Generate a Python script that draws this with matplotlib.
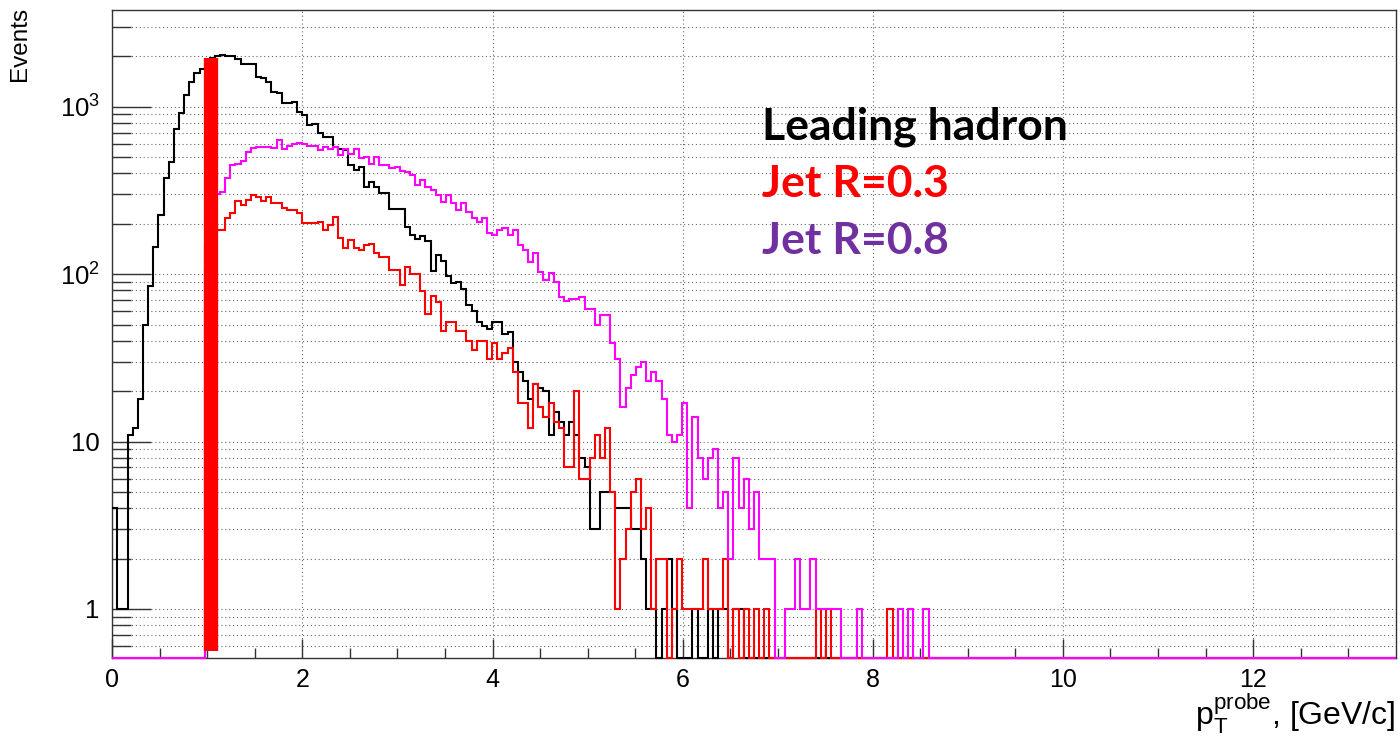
import matplotlib

matplotlib.use("Agg")
import matplotlib.pyplot as plt
import numpy as np
from matplotlib.ticker import FixedLocator, FixedFormatter, NullFormatter

plt.rcParams["font.family"] = ["Liberation Sans", "DejaVu Sans"]
plt.rcParams["mathtext.fontset"] = "custom"
plt.rcParams["mathtext.rm"] = "Liberation Sans"

# binning: 250 bins on [0, 13.5] GeV/c
N_BINS = 250
PT_MAX = 13.5

# leading hadron counts from bin 0
lead_counts = [
    4, 1, 1, 11, 12, 18, 50, 85, 145, 226,
    374, 470, 734, 915, 1176, 1413, 1585, 1675, 1800, 1950,
    2020, 2050, 2020, 2020, 1930, 1795, 1795, 1795, 1513, 1481,
    1413, 1231, 1205, 1050, 1050, 1065, 935, 893, 778, 790,
    695, 663, 663, 575, 560, 552, 449, 419, 439, 333,
    357, 331, 304, 304, 244, 244, 244, 192, 171, 162,
    169, 158, 105, 130, 120, 97, 88, 90, 82, 65,
    60, 52, 49, 47, 52, 52, 44, 45, 30, 26,
    23, 18, 22, 21, 20, 11, 15, 13, 11, 13,
    11, 8, 7, 3, 3, 5, 5, 5, 4, 4,
    4, 3, 3, 2, 1, 1, 0, 1, 2, 1,
    0, 0, 0, 1, 0, 0, 1, 0, 1, 1,
    0, 1, 1,
]

# jet R=0.3 and R=0.8 counts, both start at bin 18
JET_FIRST_BIN = 18
jet03_counts = [
    150, 180, 184, 184, 216, 231, 275, 259, 277, 297,
    291, 275, 291, 265, 265, 248, 243, 243, 231, 201,
    201, 201, 206, 184, 197, 221, 164, 143, 160, 143,
    140, 149, 152, 134, 127, 127, 106, 106, 86, 111,
    100, 100, 79, 58, 74, 68, 46, 52, 52, 46,
    46, 40, 35, 40, 40, 31, 39, 31, 34, 36,
    26, 17, 17, 12, 22, 16, 14, 17, 13, 12,
    7, 7, 20, 6, 6, 8, 11, 8, 12, 5,
    1, 2, 3, 5, 6, 3, 4, 1, 2, 2,
    0, 1, 2, 1, 1, 1, 1, 2, 1, 1,
    1, 2, 0, 1, 0, 1, 0, 1, 0, 1,
    0, 0, 0, 0, 0, 0, 0, 0, 0, 1,
    0, 1, 0, 0, 0, 0, 0, 0, 0, 0,
    0, 0, 0, 1,
]
jet08_counts = [
    108, 200, 300, 310, 374, 449, 455, 476, 540, 565,
    573, 573, 578, 565, 634, 557, 583, 600, 605, 600,
    583, 583, 552, 578, 557, 573, 515, 557, 522, 557,
    492, 504, 455, 504, 449, 449, 429, 439, 415, 410,
    392, 341, 365, 333, 318, 297, 271, 297, 265, 242,
    265, 236, 216, 206, 216, 176, 171, 184, 188, 171,
    184, 150, 140, 119, 134, 103, 92, 102, 90, 73,
    69, 71, 71, 73, 62, 62, 50, 57, 57, 39,
    31, 16, 21, 25, 28, 30, 23, 26, 23, 18,
    11, 10, 11, 17, 4, 14, 8, 6, 8, 9,
    4, 5, 2, 8, 4, 6, 3, 5, 2, 2,
    2, 0, 0, 1, 1, 2, 1, 1, 2, 1,
    1, 1, 1, 1, 0, 0, 0, 1, 0, 0,
    0, 0, 0, 0, 0, 1, 0, 1, 0, 0,
    1,
]

# pT threshold marker
CUT_PT = 1.04
CUT_RANGE = (0.56, 1950)

labels = ["Leading hadron", "Jet R=0.3", "Jet R=0.8"]
label_colors = ["black", "#ff0000", "#7030a0"]

Y_MIN, Y_MAX = 0.507, 3790


def full_hist(counts, first_bin=0):
    h = np.zeros(N_BINS)
    h[first_bin:first_bin + len(counts)] = counts
    # empty bins sit on the lower frame edge like in ROOT
    return np.where(h > 0, h, Y_MIN)


edges = np.linspace(0, PT_MAX, N_BINS + 1)

fig = plt.figure(figsize=(14, 7.37), dpi=100)
ax = fig.add_axes([0.0802, 0.1068, 0.9167, 0.8797])
ax.set_yscale("log")
ax.set_xlim(0, PT_MAX)
ax.set_ylim(Y_MIN, Y_MAX)

hists = [
    (full_hist(lead_counts), "black"),
    (full_hist(jet03_counts, JET_FIRST_BIN), "#ff0000"),
    (full_hist(jet08_counts, JET_FIRST_BIN), "#ff00ff"),
]
for vals, col in hists:
    ax.stairs(vals, edges, baseline=None, color=col, lw=1.5, zorder=3, clip_on=False)

ax.plot([CUT_PT, CUT_PT], CUT_RANGE, color="#ff0000", lw=10.3,
        solid_capstyle="butt", zorder=4)

# axes ticks and grid, ROOT look
ax.xaxis.set_major_locator(FixedLocator(np.arange(0, 13, 2)))
ax.xaxis.set_minor_locator(FixedLocator(np.arange(0, 13.5, 0.5)))
ax.set_xticklabels([str(v) for v in range(0, 13, 2)])

y_major = [1, 10, 100, 1000]
y_minor = [m * 10.0 ** e for e in range(-1, 4) for m in range(2, 10)]
y_minor = [v for v in y_minor if Y_MIN < v < Y_MAX]
ax.yaxis.set_major_locator(FixedLocator(y_major))
ax.yaxis.set_major_formatter(FixedFormatter(["1", "10", r"$\mathregular{10^{2}}$", r"$\mathregular{10^{3}}$"]))
ax.yaxis.set_minor_locator(FixedLocator(y_minor))
ax.yaxis.set_minor_formatter(NullFormatter())

ax.tick_params(axis="both", which="both", direction="in", colors="#333333", width=1.0)
ax.tick_params(axis="y", which="major", length=28, pad=9, labelsize=18.5, labelcolor="black")
ax.tick_params(axis="y", which="minor", length=13.5)
ax.tick_params(axis="x", which="major", length=14, pad=7, labelsize=18, labelcolor="black")
ax.tick_params(axis="x", which="minor", length=7)

grid_style = dict(color="#666666", lw=0.8, linestyle=(0, (1, 2.5)))
ax.grid(True, axis="x", which="major", **grid_style)
ax.grid(True, axis="y", which="both", **grid_style)
ax.set_axisbelow(True)
for s in ax.spines.values():
    s.set_linewidth(1.0)
    s.set_color("#333333")

for i, (txt, col) in enumerate(zip(labels, label_colors)):
    ax.text(0.506, 0.820 - 0.088 * i, txt, transform=ax.transAxes, color=col,
            fontsize=32, fontweight="bold", family=["Lato", "DejaVu Sans"],
            ha="left", va="center", zorder=5)

fig.text(0.0146, 0.99, "Events", rotation=90, ha="center", va="top", fontsize=17.5)
fig.text(0.997, 0.002, r"$\mathregular{p_{T}^{probe}}$, [GeV/c]", ha="right",
         va="bottom", fontsize=23)

fig.savefig("out.png", dpi=100)
